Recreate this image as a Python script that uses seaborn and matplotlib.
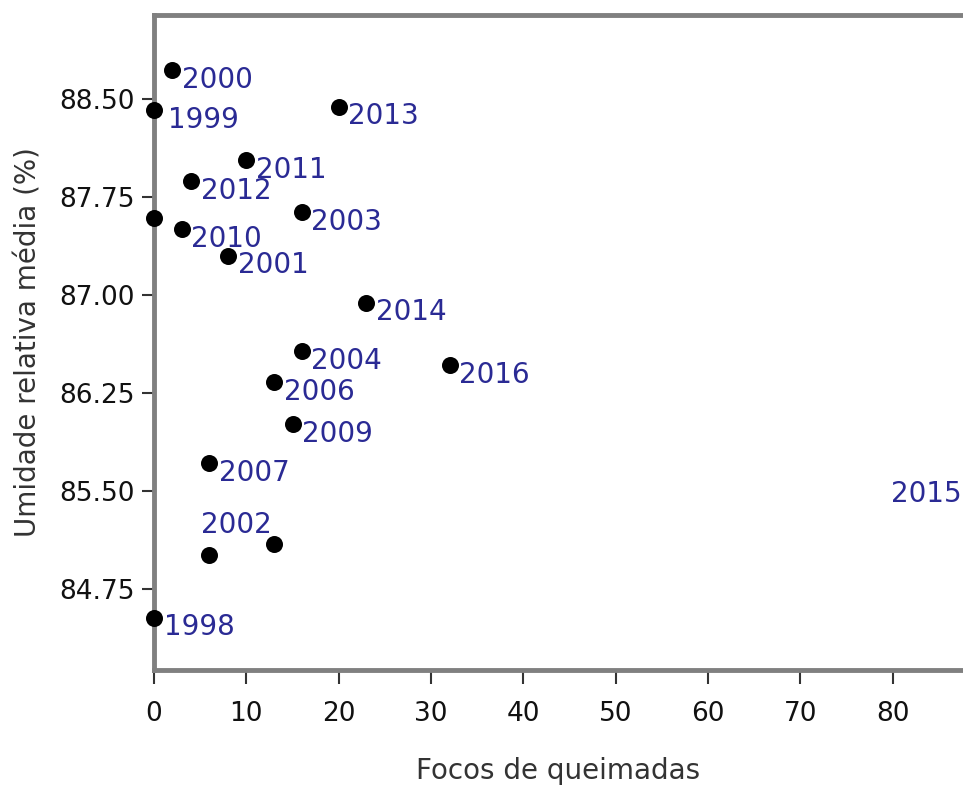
import numpy as np
import matplotlib
matplotlib.use("Agg")
import matplotlib.pyplot as plt
import seaborn as sns

# aesthetics
sns.set_style("white")
plt.rcParams['font.family'] = ['DejaVu Sans']

# donnees
anos = [1998, 1999, 2000, 2001, 2002, 2003, 2004, 2005, 2006, 2007,
        2008, 2009, 2010, 2011, 2012, 2013, 2014, 2015, 2016]
focos = [0, 0, 2, 8, 13, 16, 16, 0, 13, 6,
         6, 15, 3, 10, 4, 20, 23, 92, 32]
umidade = [84.53, 88.41, 88.72, 87.30, 85.09, 87.63, 86.57, 87.59, 86.33, 85.71,
           85.01, 86.01, 87.50, 88.03, 87.87, 88.44, 86.94, 85.55, 86.46]
sem_rotulo = [2005, 2008]
yticks = [84.75, 85.50, 86.25, 87.00, 87.75, 88.50]
xticks = [0, 10, 20, 30, 40, 50, 60, 70, 80]

# decalage des etiquettes (points) : par defaut en bas a droite
decal = {2002: ((-2, 14), 'right'), 2015: ((-30, -7), 'right'),
         1999: ((10, -7), 'left')}

fig = plt.figure(figsize=(9.63, 7.85), dpi=100)
ax = fig.add_axes([154/963, 1 - 670/785, 1 - 154/963, (670 - 15)/785])

sns.scatterplot(x=focos, y=umidade, color='black', s=150, linewidth=0,
                ax=ax, zorder=3, clip_on=False, legend=False)

for a, f, u in zip(anos, focos, umidade):
    if a in sem_rotulo:
        continue
    off, ha = decal.get(a, ((7, -7), 'left'))
    ax.annotate(str(a), (f, u), xytext=off, textcoords='offset points',
                ha=ha, va='center', fontsize=20, color='#2a2a94',
                annotation_clip=False)

ax.set_xlim(0, 87.6)
ax.set_ylim(84.13, 89.14)
ax.set_xticks(xticks)
ax.set_yticks(yticks)
ax.set_yticklabels(['%.2f' % v for v in yticks])

for s in ['left', 'bottom', 'top']:
    ax.spines[s].set_color('#808080')
    ax.spines[s].set_linewidth(3.5)
ax.spines['right'].set_visible(False)

ax.tick_params(axis='both', which='both', direction='out', width=1.5,
               color='#333333', labelsize=19, labelcolor='#111111',
               left=True, bottom=True, top=False, right=False)
ax.tick_params(axis='y', length=9, pad=5)
ax.tick_params(axis='x', length=10, pad=12)

ax.set_xlabel('Focos de queimadas', fontsize=20, color='#333333', labelpad=22)
ax.set_ylabel('Umidade relativa média (%)', fontsize=20, color='#333333', labelpad=12)

fig.savefig('out.png', dpi=100)
